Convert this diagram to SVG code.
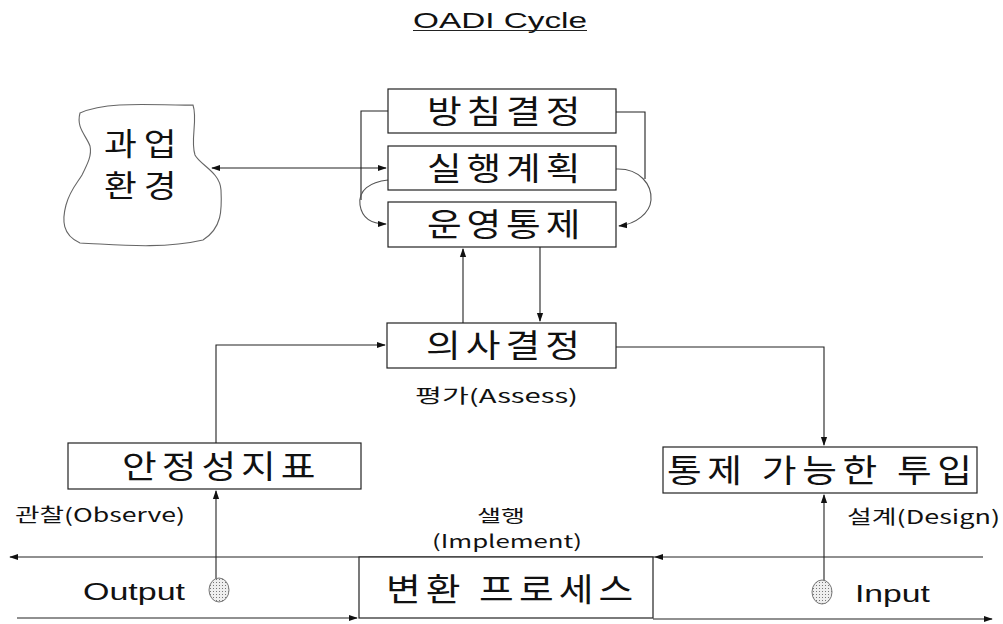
<svg xmlns="http://www.w3.org/2000/svg" width="1003" height="624" viewBox="0 0 1003 624">
<style>
.box{fill:#fff;stroke:#222;stroke-width:1.2}
.ln{fill:none;stroke:#222;stroke-width:1.1}
.cv{fill:none;stroke:#555;stroke-width:1.1}
.kr{font-family:"Noto Sans CJK KR","Liberation Sans",sans-serif;fill:#111}
.big{font-size:32px}
.sm{font-size:19px}
.en{font-family:"Liberation Sans","Noto Sans CJK KR",sans-serif;fill:#111}
</style>
<defs>
<marker id="ah" viewBox="0 0 10 10" refX="9" refY="5" markerWidth="9" markerHeight="9" markerUnits="userSpaceOnUse" orient="auto-start-reverse">
<path d="M0,1.5 L10,5 L0,8.5 Z" fill="#111"/>
</marker>
<pattern id="dots" width="3" height="3" patternUnits="userSpaceOnUse">
<rect width="3" height="3" fill="#eee"/>
<rect width="1" height="1" fill="#777"/>
</pattern>
</defs>
<rect width="1003" height="624" fill="#fff"/>

<g id="title">
<text class="en" x="413" y="28" font-size="22" textLength="174" lengthAdjust="spacingAndGlyphs">OADI  Cycle</text>
<line x1="413" y1="30.5" x2="587" y2="30.5" stroke="#222" stroke-width="1.2"/>
</g>

<g id="connectors">
<line class="ln" x1="212" y1="168" x2="386" y2="168" marker-start="url(#ah)" marker-end="url(#ah)"/>
<path class="ln" d="M388,111 H361 V200"/>
<path class="cv" d="M388,180 C370,182 358,190 360,205 C362,218 372,224 386,224" marker-end="url(#ah)"/>
<path class="ln" d="M616,112 H645 V179"/>
<path class="cv" d="M616,169 C640,168 652,185 651,200 C650,213 636,224 619,226" marker-end="url(#ah)"/>
<line class="ln" x1="463" y1="323" x2="463" y2="249" marker-end="url(#ah)"/>
<line class="ln" x1="540" y1="247" x2="540" y2="321" marker-end="url(#ah)"/>
<path class="ln" d="M216,443 V345 H385" marker-end="url(#ah)"/>
<path class="ln" d="M616,347 H824 V445" marker-end="url(#ah)"/>
<line class="ln" x1="216" y1="579" x2="216" y2="491" marker-end="url(#ah)"/>
<line class="ln" x1="824" y1="581" x2="824" y2="495" marker-end="url(#ah)"/>
<line class="ln" x1="983" y1="557" x2="655" y2="557" marker-end="url(#ah)"/>
<line class="ln" x1="655" y1="557" x2="10" y2="557" marker-end="url(#ah)"/>
<line class="ln" x1="17" y1="618" x2="357" y2="618" marker-end="url(#ah)"/>
<line class="ln" x1="653" y1="619" x2="992" y2="619" marker-end="url(#ah)"/>
</g>

<g id="env">
<path d="M80,113 C110,100 160,106 193,105 C198,120 190,140 195,155 C200,165 220,172 221,190 C222,210 222,228 203,240 C160,250 110,244 80,243 C62,235 62,220 66,205 C70,190 78,182 82,175 C88,163 92,155 90,146 C86,135 76,128 80,113 Z" fill="#fff" stroke="#666" stroke-width="1.1"/>
<text class="kr" transform="translate(104,155) scale(1.15,1)" font-size="31" textLength="63" lengthAdjust="spacing">과업</text>
<text class="kr" transform="translate(104,197) scale(1.15,1)" font-size="31" textLength="63" lengthAdjust="spacing">환경</text>
</g>

<g id="n1">
<rect class="box" x="388" y="89" width="228" height="44"/>
<text class="kr big" transform="translate(427,123) scale(1.18,1)" textLength="130" lengthAdjust="spacing">방침결정</text>
</g>
<g id="n2">
<rect class="box" x="388" y="146" width="228" height="44"/>
<text class="kr big" transform="translate(427,180) scale(1.18,1)" textLength="130" lengthAdjust="spacing">실행계획</text>
</g>
<g id="n3">
<rect class="box" x="388" y="202" width="228" height="45"/>
<text class="kr big" transform="translate(427,236) scale(1.18,1)" textLength="130" lengthAdjust="spacing">운영통제</text>
</g>
<g id="n4">
<rect class="box" x="387" y="323" width="229" height="45"/>
<text class="kr big" transform="translate(426,357) scale(1.18,1)" textLength="130.5" lengthAdjust="spacing">의사결정</text>
<text class="kr sm" x="415" y="403" textLength="163" lengthAdjust="spacingAndGlyphs">평가(Assess)</text>
</g>
<g id="n5">
<rect class="box" x="68" y="443" width="293" height="46"/>
<text class="kr big" transform="translate(122,478) scale(1.18,1)" textLength="164" lengthAdjust="spacing">안정성지표</text>
<text class="kr sm" x="15" y="522" textLength="170" lengthAdjust="spacingAndGlyphs">관찰(Observe)</text>
</g>
<g id="n6">
<rect class="box" x="663" y="447" width="314" height="46"/>
<text class="kr big" transform="translate(667,482) scale(1.18,1)" textLength="258.5" lengthAdjust="spacing">통제 가능한 투입</text>
<text class="kr sm" x="847" y="524" textLength="153" lengthAdjust="spacingAndGlyphs">설계(Design)</text>
</g>
<g id="n7">
<rect class="box" x="359" y="557" width="294" height="61"/>
<text class="kr big" transform="translate(386,601) scale(1.18,1)" textLength="209.5" lengthAdjust="spacing">변환 프로세스</text>
<text class="kr" x="477" y="522" font-size="17" textLength="48" lengthAdjust="spacingAndGlyphs">샐행</text>
<text class="kr" x="432" y="548" font-size="18" textLength="150" lengthAdjust="spacingAndGlyphs">(Implement)</text>
</g>
<g id="out">
<ellipse cx="219" cy="590" rx="10" ry="12" fill="url(#dots)" stroke="#777" stroke-width="1"/>
<text class="en" x="83" y="600" font-size="24" textLength="102" lengthAdjust="spacingAndGlyphs">Output</text>
</g>
<g id="in">
<ellipse cx="822" cy="592" rx="10" ry="12" fill="url(#dots)" stroke="#777" stroke-width="1"/>
<text class="en" x="855" y="602" font-size="24" textLength="75" lengthAdjust="spacingAndGlyphs">Input</text>
</g>
</svg>
